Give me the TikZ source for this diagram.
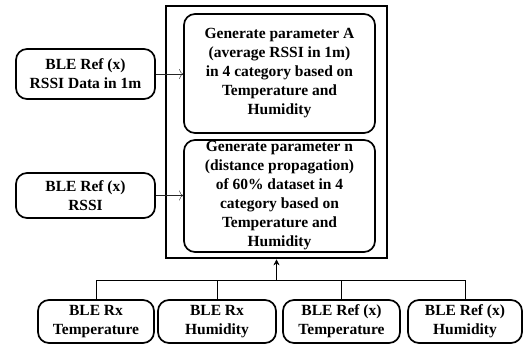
\documentclass[tikz,border=0pt]{standalone}
\usepackage{fontspec}
\setmainfont{Liberation Serif}
\usetikzlibrary{arrows,arrows.meta,positioning}

\begin{document}
\begin{tikzpicture}[x=1pt,y=-1pt,semithick,
  font=\bfseries\fontsize{15.5}{19}\selectfont]
  \tikzstyle{block}=[draw, rounded corners=11pt, line width=1.7pt,
    align=center, inner sep=0pt]
  \tikzstyle{feed}=[-{To[length=4pt,width=10pt]}, gray!30!black, thin]
  \tikzstyle{merge}=[-{Stealth[length=6pt,width=6pt]}, black, thin]

  \useasboundingbox (0,0) rectangle (524,345);

  % main frame with the two stages
  \node[draw, line width=2.6pt, minimum width=221pt, minimum height=252pt]
    (frame) at (276.5,132) {};
  \node[block, minimum width=191pt, minimum height=119pt] (genA) at (279.5,73.5)
    {Generate parameter A\\(average RSSI in 1m)\\in 4 category based on\\Temperature and\\Humidity};
  \node[block, minimum width=191pt, minimum height=112pt] (genN) at (279.5,196)
    {Generate parameter n\\(distance propagation)\\of 60\% dataset in 4\\category based on\\Temperature and\\Humidity};

  % inputs on the left
  \node[block, minimum width=139pt, minimum height=50pt] (rssiA) at (85.5,74)
    {BLE Ref (x)\\RSSI Data in 1m};
  \node[block, minimum width=139pt, minimum height=45pt] (rssiN) at (85.5,195.5)
    {BLE Ref (x)\\RSSI};

  % sensor inputs at the bottom
  \node[block, minimum width=116pt, minimum height=43pt] (rxT) at (96,321.5)
    {BLE Rx\\Temperature};
  \node[block, minimum width=118pt, minimum height=43pt] (rxH) at (217,321.5)
    {BLE Rx\\Humidity};
  \node[block, minimum width=117pt, minimum height=43pt] (refT) at (341.5,321.5)
    {BLE Ref (x)\\Temperature};
  \node[block, minimum width=114pt, minimum height=43pt] (refH) at (465,321.5)
    {BLE Ref (x)\\Humidity};

  \coordinate (hub) at ([yshift=-21pt]frame.south);

  \path
  (rssiA.east) edge [feed] (rssiA.east -| genA.west)
  (rssiN.east) edge [feed] (rssiN.east -| genN.west)
  ;
  \draw[thin] (rxT.north) |- (hub) -| (refH.north);
  \draw[thin] (rxH.north) -- (rxH.north |- hub);
  \draw[thin] (refT.north) -- (refT.north |- hub);
  \draw[merge] (hub) -- (frame.south);
\end{tikzpicture}
\end{document}
